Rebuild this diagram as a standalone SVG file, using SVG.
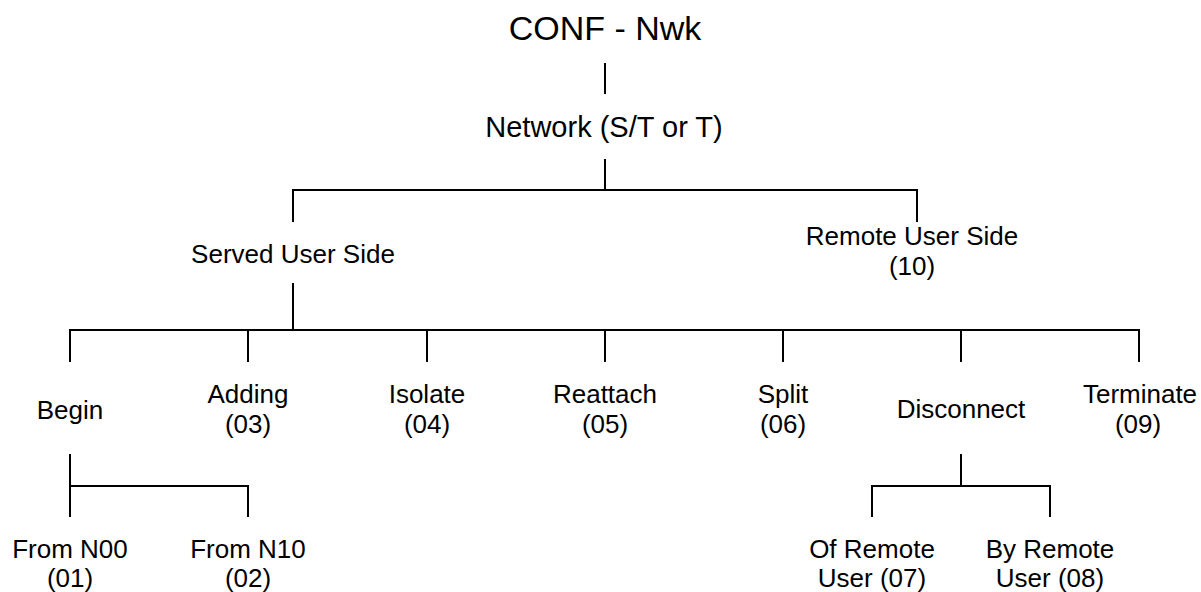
<svg xmlns="http://www.w3.org/2000/svg" width="1201" height="592" viewBox="0 0 1201 592">
<style>
text{font-family:"Liberation Sans",Arial,sans-serif;font-size:26px;fill:#000;text-anchor:middle}
.title{font-size:34px}
.big{font-size:29px}
line{stroke:#000;stroke-width:2}
</style>
<rect width="1201" height="592" fill="#fff"/>
<g id="connectors">
<line x1="605" y1="63" x2="605" y2="94"/>
<line x1="605" y1="159" x2="605" y2="190"/>
<line x1="292" y1="190" x2="918" y2="190"/>
<line x1="293" y1="190" x2="293" y2="222"/>
<line x1="917" y1="190" x2="917" y2="222"/>
<line x1="293" y1="283" x2="293" y2="330"/>
<line x1="69" y1="330" x2="1140" y2="330"/>
<line x1="70" y1="330" x2="70" y2="362"/>
<line x1="248" y1="330" x2="248" y2="362"/>
<line x1="427" y1="330" x2="427" y2="362"/>
<line x1="605" y1="330" x2="605" y2="362"/>
<line x1="783" y1="330" x2="783" y2="362"/>
<line x1="961" y1="330" x2="961" y2="362"/>
<line x1="1139" y1="330" x2="1139" y2="362"/>
<line x1="70" y1="454" x2="70" y2="517"/>
<line x1="70" y1="486" x2="249" y2="486"/>
<line x1="248" y1="486" x2="248" y2="517"/>
<line x1="961" y1="454" x2="961" y2="486"/>
<line x1="871" y1="486" x2="1051" y2="486"/>
<line x1="872" y1="486" x2="872" y2="517"/>
<line x1="1050" y1="486" x2="1050" y2="517"/>
</g>
<g id="n-conf"><text class="title" x="605" y="40">CONF - Nwk</text></g>
<g id="n-network"><text class="big" x="604" y="137">Network (S/T or T)</text></g>
<g id="n-served"><text x="293" y="263">Served User Side</text></g>
<g id="n-remote"><text x="912" y="245">Remote User Side</text><text x="912" y="275">(10)</text></g>
<g id="n-begin"><text x="70" y="419">Begin</text></g>
<g id="n-adding"><text x="248" y="403">Adding</text><text x="248" y="433">(03)</text></g>
<g id="n-isolate"><text x="427" y="403">Isolate</text><text x="427" y="433">(04)</text></g>
<g id="n-reattach"><text x="605" y="403">Reattach</text><text x="605" y="433">(05)</text></g>
<g id="n-split"><text x="783" y="403">Split</text><text x="783" y="433">(06)</text></g>
<g id="n-disconnect"><text x="961" y="418">Disconnect</text></g>
<g id="n-terminate"><text x="1140" y="403">Terminate</text><text x="1138" y="433">(09)</text></g>
<g id="n-from00"><text x="70" y="558">From N00</text><text x="70" y="587">(01)</text></g>
<g id="n-from10"><text x="248" y="558">From N10</text><text x="248" y="587">(02)</text></g>
<g id="n-of"><text x="872" y="558">Of Remote</text><text x="872" y="587">User (07)</text></g>
<g id="n-by"><text x="1050" y="558">By Remote</text><text x="1050" y="587">User (08)</text></g>
</svg>
